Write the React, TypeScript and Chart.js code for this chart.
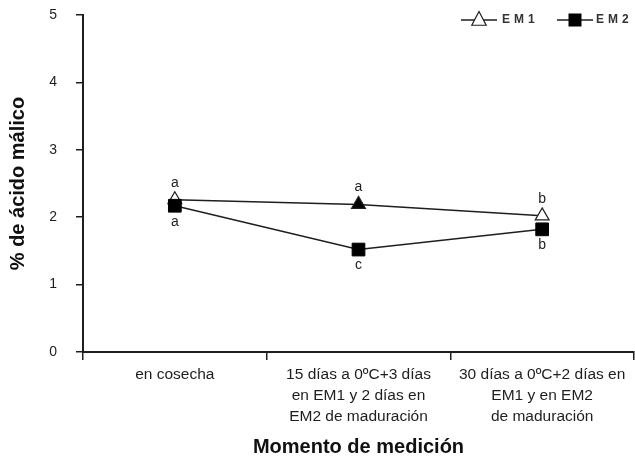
import React, { useEffect, useRef } from "react";
import { Chart, registerables } from "chart.js";

Chart.register(...registerables);

const categories: string[][] = [
  ["en cosecha"],
  ["15 días a 0ºC+3 días", "en EM1 y 2 días en", "EM2 de maduración"],
  ["30 días a 0ºC+2 días en", "EM1 y en EM2", "de maduración"],
];
const em1Values = [2.26, 2.19, 2.02];
const em2Values = [2.17, 1.52, 1.82];
const em1Letters = ["a", "a", "b"];
const em2Letters = ["a", "c", "b"];
const seriesNames = ["EM1", "EM2"];
const yTicks = [0, 1, 2, 3, 4, 5];

const FONT = "'Liberation Sans', Arial, sans-serif";
const INK = "#1e1e1e";

const letterPlugin = {
  id: "letters",
  afterDatasetsDraw(chart: any) {
    const ctx = chart.ctx;
    ctx.save();
    ctx.font = `14px ${FONT}`;
    ctx.fillStyle = INK;
    ctx.textAlign = "center";
    ctx.textBaseline = "middle";
    const m1 = chart.getDatasetMeta(0);
    const m2 = chart.getDatasetMeta(1);
    m1.data.forEach((p: any, i: number) => {
      ctx.fillText(em1Letters[i], p.x, p.y - 17);
    });
    m2.data.forEach((p: any, i: number) => {
      ctx.fillText(em2Letters[i], p.x, p.y + 16);
    });
    ctx.restore();
  },
  afterDraw(chart: any) {
    const ctx = chart.ctx;
    const right = chart.chartArea.right;
    const y = 20;
    ctx.save();
    ctx.strokeStyle = INK;
    ctx.lineWidth = 1.5;
    // EM1 legend
    let cx = right - 155;
    ctx.beginPath();
    ctx.moveTo(cx - 18, y);
    ctx.lineTo(cx + 18, y);
    ctx.stroke();
    ctx.beginPath();
    const r = 8.5;
    ctx.moveTo(cx, y - r);
    ctx.lineTo(cx + r * 0.85, y + r * 0.62);
    ctx.lineTo(cx - r * 0.85, y + r * 0.62);
    ctx.closePath();
    ctx.fillStyle = "#fff";
    ctx.fill();
    ctx.lineWidth = 1.2;
    ctx.stroke();
    ctx.fillStyle = "#333";
    ctx.font = `bold 12px ${FONT}`;
    ctx.textAlign = "left";
    ctx.textBaseline = "middle";
    (ctx as any).letterSpacing = "4px";
    ctx.fillText(seriesNames[0], cx + 23, y);
    // EM2 legend
    cx = right - 59;
    ctx.lineWidth = 1.5;
    ctx.beginPath();
    ctx.moveTo(cx - 18, y);
    ctx.lineTo(cx + 18, y);
    ctx.stroke();
    ctx.fillStyle = "#000";
    ctx.fillRect(cx - 6.5, y - 6.5, 13, 13);
    ctx.fillStyle = "#333";
    ctx.fillText(seriesNames[1], cx + 21, y);
    (ctx as any).letterSpacing = "0px";
    ctx.restore();
  },
};

export default function App() {
  const ref = useRef<HTMLCanvasElement>(null);
  useEffect(() => {
    if (!ref.current) return;
    const chart = new Chart(ref.current, {
      type: "line",
      data: {
        labels: categories,
        datasets: [
          {
            label: seriesNames[0],
            data: em1Values,
            borderColor: INK,
            borderWidth: 1.5,
            pointStyle: "triangle",
            pointRadius: 8,
            pointBorderWidth: 1.2,
            pointBorderColor: INK,
            pointBackgroundColor: ["#fff", "#000", "#fff"],
            order: 1,
          },
          {
            label: seriesNames[1],
            data: em2Values,
            borderColor: INK,
            borderWidth: 1.5,
            pointStyle: "rect",
            pointRadius: 9,
            pointBorderWidth: 1,
            pointBorderColor: "#000",
            pointBackgroundColor: "#000",
            order: 0,
          },
        ],
      },
      options: {
        responsive: false,
        animation: false,
        layout: { autoPadding: false, padding: { top: 15, right: 1, left: 0, bottom: 0 } },
        plugins: {
          legend: { display: false },
          tooltip: { enabled: false },
        },
        scales: {
          x: {
            type: "category",
            offset: true,
            grid: {
              display: true,
              drawOnChartArea: false,
              drawTicks: true,
              tickLength: 8,
              offset: true,
              color: INK,
              lineWidth: 1.5,
            },
            border: { display: true, color: INK, width: 2 },
            ticks: {
              font: { family: FONT, size: 15.5, lineHeight: 1.35 },
              color: INK,
              padding: 4,
              maxRotation: 0,
              autoSkip: false,
            },
            title: {
              display: true,
              text: "Momento de medición",
              font: { family: FONT, size: 20, weight: "bold" },
              color: "#111",
              padding: { top: 0, bottom: 1 },
            },
            afterFit: (s: any) => {
              s.height = 108;
              s.paddingLeft = 0;
              s.paddingRight = 0;
            },
          },
          y: {
            min: 0,
            max: 5,
            afterBuildTicks: (s: any) => {
              s.ticks = yTicks.map((v) => ({ value: v }));
            },
            grid: {
              display: true,
              drawOnChartArea: false,
              drawTicks: true,
              tickLength: 7,
              color: INK,
              lineWidth: 1.5,
            },
            border: { display: true, color: INK, width: 2 },
            ticks: {
              font: { family: FONT, size: 14 },
              color: INK,
              padding: 19,
            },
            title: {
              display: true,
              text: "% de ácido málico",
              font: { family: FONT, size: 20, weight: "bold" },
              color: "#111",
              padding: { top: 6, bottom: 0 },
            },
            afterFit: (s: any) => {
              s.width = 83;
              s.paddingTop = 0;
              s.paddingBottom = 0;
            },
          },
        },
      },
      plugins: [letterPlugin],
    });
    return () => chart.destroy();
  }, []);
  return (
    <div style={{ position: "absolute", left: 0, top: 0, width: 635, height: 460, background: "#fff" }}>
      <canvas ref={ref} width={635} height={460} />
    </div>
  );
}
